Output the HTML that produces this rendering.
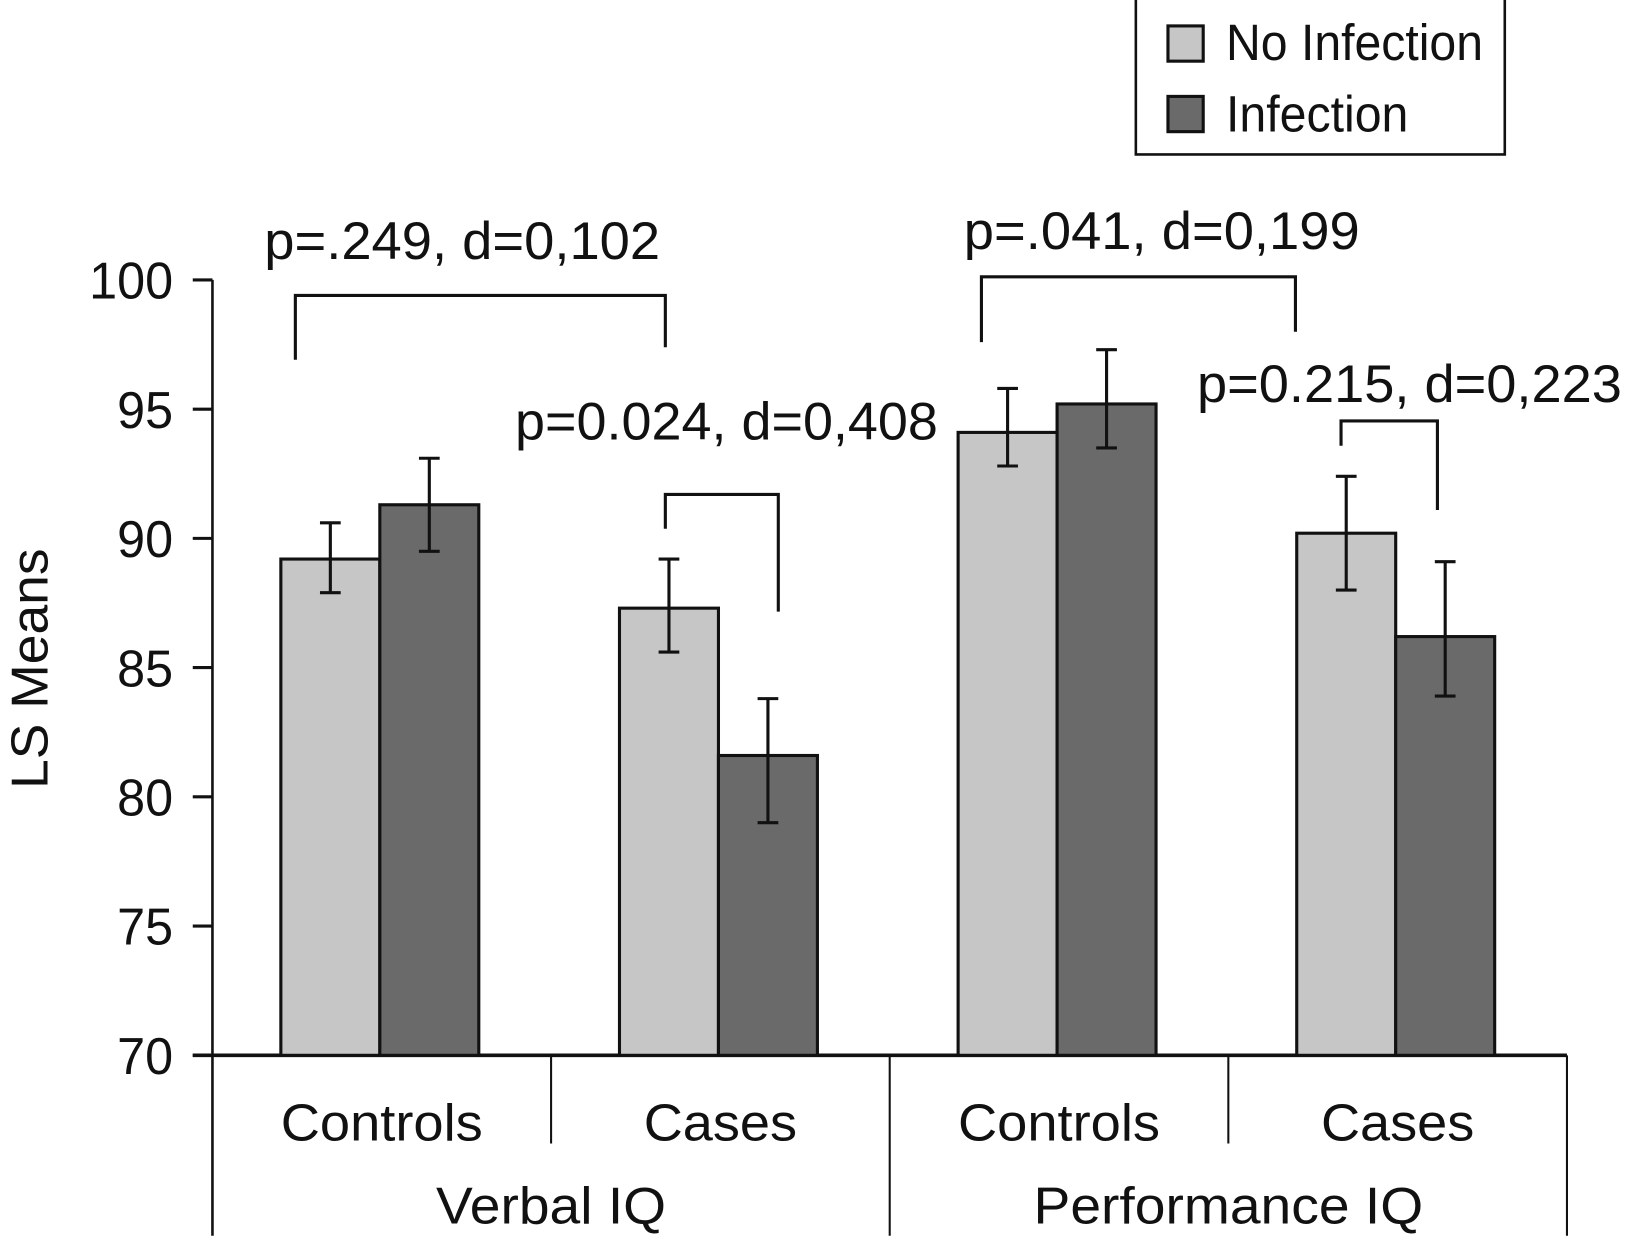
<!DOCTYPE html>
<html><head><meta charset="utf-8"><style>
html,body{margin:0;padding:0;background:#fff;}
svg{display:block;}
text{font-family:"Liberation Sans",Arial,sans-serif;fill:#111;}
</style></head><body>
<svg id="chart" width="1625" height="1244" viewBox="0 0 1568 1200" preserveAspectRatio="none" xmlns="http://www.w3.org/2000/svg">
<g id="legend">
  <rect x="1096" y="-4" width="356" height="153" fill="#fff" stroke="#111" stroke-width="2.5"/>
  <rect x="1127" y="25" width="34" height="34" fill="#c6c6c6" stroke="#111" stroke-width="3"/>
  <text x="1183" y="58" font-size="49" textLength="248" lengthAdjust="spacingAndGlyphs">No Infection</text>
  <rect x="1127" y="93" width="34" height="34" fill="#6a6a6a" stroke="#111" stroke-width="3"/>
  <text x="1183" y="127" font-size="49" textLength="176" lengthAdjust="spacingAndGlyphs">Infection</text>
</g>
<text transform="translate(46,645) rotate(-90)" text-anchor="middle" font-size="50" textLength="232" lengthAdjust="spacingAndGlyphs">LS Means</text>
<g id="axes"></g>
<g id="bars"></g>
<g id="annot"></g>
</svg>
<script>
const yTicks = [70, 75, 80, 85, 90, 95, 100];
const categories = ["Controls", "Cases", "Controls", "Cases"];
const groups = ["Verbal IQ", "Performance IQ"];
const noInfection = [89.2, 87.3, 94.1, 90.2];
const noInfLow = [87.9, 85.6, 92.8, 88.0];
const noInfHigh = [90.6, 89.2, 95.8, 92.4];
const infection = [91.3, 81.6, 95.2, 86.2];
const infLow = [89.5, 79.0, 93.5, 83.9];
const infHigh = [93.1, 83.8, 97.3, 89.1];
const pLabels = ["p=.249, d=0,102", "p=0.024, d=0,408", "p=.041, d=0,199", "p=0.215, d=0,223"];

const NS = "http://www.w3.org/2000/svg";
const X0 = 205, X1 = 1512, Y70 = 1018, Y100 = 270;
const yScale = v => Y70 - (v - 70) / 30 * (Y70 - Y100);
const catW = (X1 - X0) / categories.length;
const catX = i => X0 + catW * i;
const barW = 95.5;
const barStart = i => catX(i) + 66;

function mk(tag, attrs, parent) {
  const e = document.createElementNS(NS, tag);
  for (const k in attrs) e.setAttribute(k, attrs[k]);
  parent.appendChild(e);
  return e;
}
const axes = document.getElementById('axes');
const bars = document.getElementById('bars');
const annot = document.getElementById('annot');

let ya = mk('line', {x1: X0, y1: Y100, x2: X0, y2: 1192, stroke: '#111', 'stroke-width': 2.5}, axes);


yTicks.forEach(t => {
  const y = yScale(t);
  const tk = mk('line', {x1: 186, y1: y, x2: X0, y2: y, stroke: '#111', 'stroke-width': 3}, axes);
  
  
  const tl = mk('text', {x: 167, y: y + 18, 'text-anchor': 'end', 'font-size': 50, textLength: String(t).length * 27, lengthAdjust: 'spacingAndGlyphs'}, axes);
  tl.textContent = t;
  
  
});

categories.forEach((c, i) => {
  const bx = barStart(i);
  const specs = [[noInfection, noInfLow, noInfHigh, '#c6c6c6', bx, 'bar-no-infection'], [infection, infLow, infHigh, '#6a6a6a', bx + barW, 'bar-infection']];
  specs.forEach(([vals, lo, hi, col, x, nm]) => {
    const r = mk('rect', {x: x, y: yScale(vals[i]), width: barW, height: Y70 - yScale(vals[i]), fill: col, stroke: '#111', 'stroke-width': 3}, bars);
    
    
    const cx = x + barW / 2;
    const eb = mk('path', {d: `M${cx - 10},${yScale(hi[i])}H${cx + 10}M${cx},${yScale(hi[i])}V${yScale(lo[i])}M${cx - 10},${yScale(lo[i])}H${cx + 10}`, stroke: '#111', 'stroke-width': 3, fill: 'none'}, bars);
    
    
  });
  const cl = mk('text', {x: catX(i) + catW / 2, y: 1100, 'text-anchor': 'middle', 'font-size': 50, textLength: c === 'Controls' ? 195 : 148, lengthAdjust: 'spacingAndGlyphs'}, axes);
  cl.textContent = c;
  
  
});

let xa = mk('line', {x1: 186, y1: Y70, x2: X1, y2: Y70, stroke: '#111', 'stroke-width': 3.5}, axes);


for (let i = 1; i <= categories.length; i++) {
  const long = (i % 2 === 0);
  const d = mk('line', {x1: catX(i), y1: Y70, x2: catX(i), y2: long ? 1192 : 1103, stroke: '#111', 'stroke-width': 2}, axes);
  
  
}
groups.forEach((g, j) => {
  const gl = mk('text', {x: catX(j * 2) + catW, y: 1180, 'text-anchor': 'middle', 'font-size': 50, textLength: j === 0 ? 222 : 376, lengthAdjust: 'spacingAndGlyphs'}, axes);
  gl.textContent = g;
  
  
});

const brackets = [
  {x1: 285, x2: 642, top: 285, l: 347, r: 335, tx: 255, ty: 250, tw: 382},
  {x1: 642, x2: 751, top: 477, l: 510, r: 590, tx: 497, ty: 424, tw: 408},
  {x1: 947, x2: 1250, top: 267, l: 330, r: 320, tx: 930, ty: 240, tw: 382},
  {x1: 1294, x2: 1387, top: 406, l: 430, r: 492, tx: 1155, ty: 388, tw: 410}
];
brackets.forEach((b, i) => {
  const p = mk('path', {d: `M${b.x1},${b.l}V${b.top}H${b.x2}V${b.r}`, stroke: '#111', 'stroke-width': 3, fill: 'none'}, annot);
  
  
  const t = mk('text', {x: b.tx, y: b.ty, 'font-size': 51, textLength: b.tw, lengthAdjust: 'spacingAndGlyphs'}, annot);
  t.textContent = pLabels[i];
  
  
});
</script>
</body></html>
